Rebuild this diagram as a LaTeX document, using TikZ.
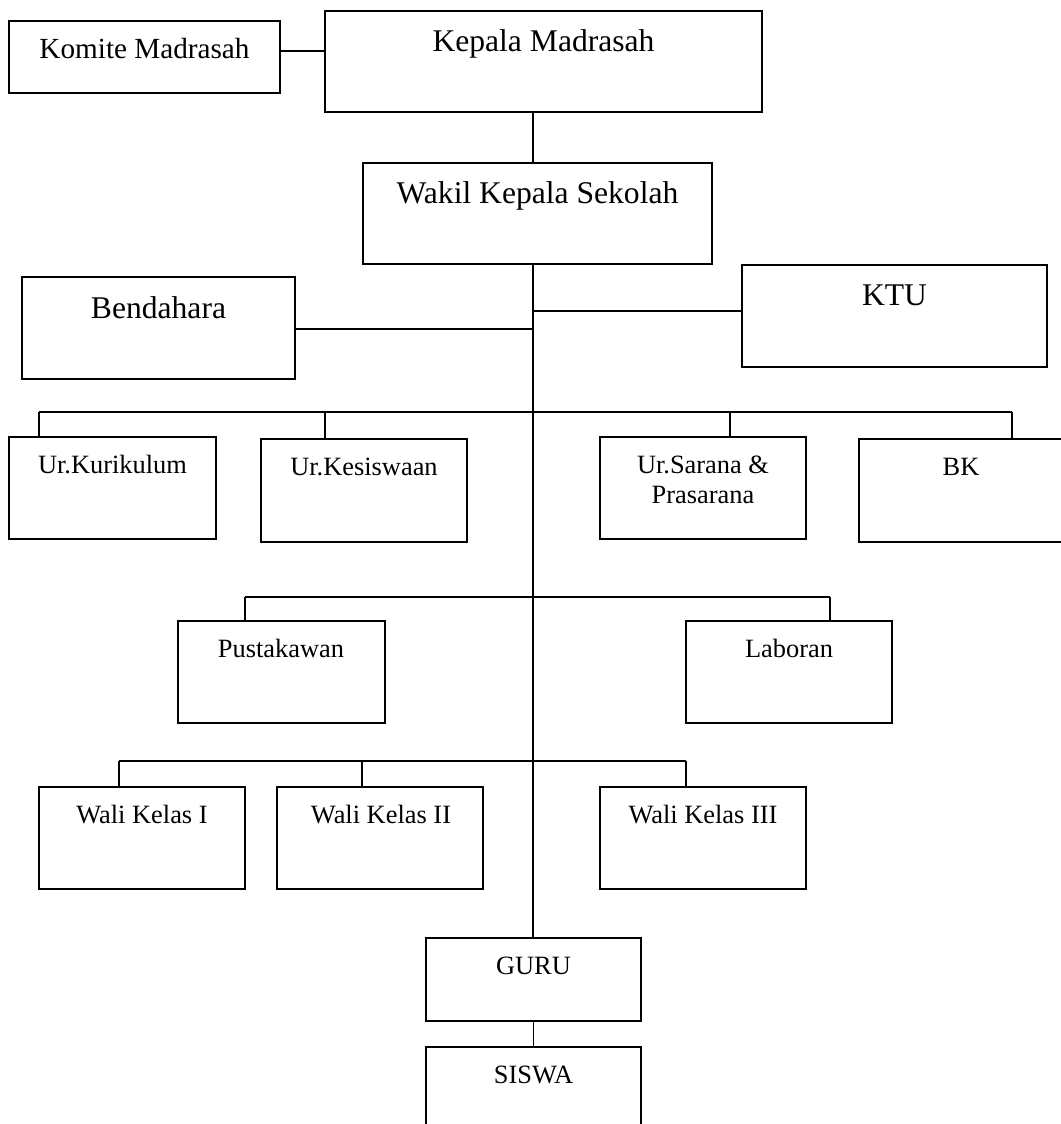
\documentclass[tikz,border=0pt]{standalone}
\usepackage{fontspec}
\setmainfont{Liberation Serif}
\begin{document}
\begin{tikzpicture}[x=1pt,y=-1pt,
  box/.style={draw=black,line width=1.8pt,rectangle,inner sep=0pt},
  bigtxt/.style={anchor=base,inner sep=0pt,font=\fontsize{31.6}{36}\selectfont},
  midtxt/.style={anchor=base,inner sep=0pt,font=\fontsize{29.2}{34}\selectfont},
  smalltxt/.style={anchor=base,inner sep=0pt,font=\fontsize{26.4}{30}\selectfont},
  conn/.style={draw=black,line width=1.8pt}]
\useasboundingbox (0,0) rectangle (1060,1124);
% boxes
\node[box,minimum width=271pt,minimum height=72pt] (komite) at (144.5,57) {};
\node[box,minimum width=437pt,minimum height=101pt] (kepala) at (543.5,61.5) {};
\node[box,minimum width=349pt,minimum height=101pt] (wakil) at (537.5,213.5) {};
\node[box,minimum width=273pt,minimum height=102pt] (bendahara) at (158.5,328) {};
\node[box,minimum width=305pt,minimum height=102pt] (ktu) at (894.5,316) {};
\node[box,minimum width=207pt,minimum height=102pt] (kurikulum) at (112.5,488) {};
\node[box,minimum width=206pt,minimum height=103pt] (kesiswaan) at (364,490.5) {};
\node[box,minimum width=206pt,minimum height=102pt] (sarana) at (703,488) {};
\node[box,minimum width=211pt,minimum height=103pt] (bk) at (964.5,490.5) {};
\node[box,minimum width=207pt,minimum height=102pt] (pustakawan) at (281.5,672) {};
\node[box,minimum width=206pt,minimum height=102pt] (laboran) at (789,672) {};
\node[box,minimum width=206pt,minimum height=102pt] (wali1) at (142,838) {};
\node[box,minimum width=206pt,minimum height=102pt] (wali2) at (380,838) {};
\node[box,minimum width=206pt,minimum height=102pt] (wali3) at (703,838) {};
\node[box,minimum width=215pt,minimum height=83pt] (guru) at (533.5,979.5) {};
\node[box,minimum width=215pt,minimum height=83pt] (siswa) at (533.5,1088.5) {};
% texts
\node[midtxt] (tkomite) at (144.5,59) {Komite Madrasah};
\node[bigtxt] (tkepala) at (543.5,52) {Kepala Madrasah};
\node[bigtxt] (twakil) at (537.5,203) {Wakil Kepala Sekolah};
\node[bigtxt] (tbendahara) at (158.5,318) {Bendahara};
\node[bigtxt] (tktu) at (894.5,305) {KTU};
\node[smalltxt] (tkurikulum) at (112.5,473) {Ur.Kurikulum};
\node[smalltxt] (tkesiswaan) at (364,475) {Ur.Kesiswaan};
\node[smalltxt] (tsarana1) at (703,473) {Ur.Sarana \&};
\node[smalltxt] (tsarana2) at (703,503) {Prasarana};
\node[smalltxt] (tbk) at (961,475) {BK};
\node[smalltxt] (tpustakawan) at (281,657) {Pustakawan};
\node[smalltxt] (tlaboran) at (789,657) {Laboran};
\node[smalltxt] (twali1) at (142,823) {Wali Kelas I};
\node[smalltxt] (twali2) at (381,823) {Wali Kelas II};
\node[smalltxt] (twali3) at (703,823) {Wali Kelas III};
\node[smalltxt] (tguru) at (533.5,974) {GURU};
\node[smalltxt] (tsiswa) at (533.5,1083) {SISWA};
% junction coordinates
\coordinate (trunk) at (533,0);
\coordinate (jkom) at (300,51);
\coordinate (jktu) at (533,311);
\coordinate (jben) at (533,329);
\coordinate (b1l) at (39,412);
\coordinate (b1r) at (1012,412);
\coordinate (d12) at (325,412);
\coordinate (d13) at (730,412);
\coordinate (b2l) at (245,597);
\coordinate (b2r) at (830,597);
\coordinate (b3l) at (119,761);
\coordinate (b3m) at (362,761);
\coordinate (b3r) at (686,761);
% connectors
\draw[conn] (komite.east |- jkom) -- (kepala.west |- jkom);
\draw[conn] (kepala.south -| trunk) -- (wakil.north -| trunk);
\draw[conn] (wakil.south -| trunk) -- (guru.north -| trunk);
\draw[conn] (jben) -- (bendahara.east |- jben);
\draw[conn] (jktu) -- (ktu.west |- jktu);
\draw[conn] (b1l) -- (b1r);
\draw[conn] (b1l) -- (b1l |- kurikulum.north);
\draw[conn] (d12) -- (d12 |- kesiswaan.north);
\draw[conn] (d13) -- (d13 |- sarana.north);
\draw[conn] (b1r) -- (b1r |- bk.north);
\draw[conn] (b2l) -- (b2r);
\draw[conn] (b2l) -- (b2l |- pustakawan.north);
\draw[conn] (b2r) -- (b2r |- laboran.north);
\draw[conn] (b3l) -- (b3r);
\draw[conn] (b3l) -- (b3l |- wali1.north);
\draw[conn] (b3m) -- (b3m |- wali2.north);
\draw[conn] (b3r) -- (b3r |- wali3.north);
\draw[conn] (guru.south) -- (siswa.north);
\end{tikzpicture}
\end{document}
